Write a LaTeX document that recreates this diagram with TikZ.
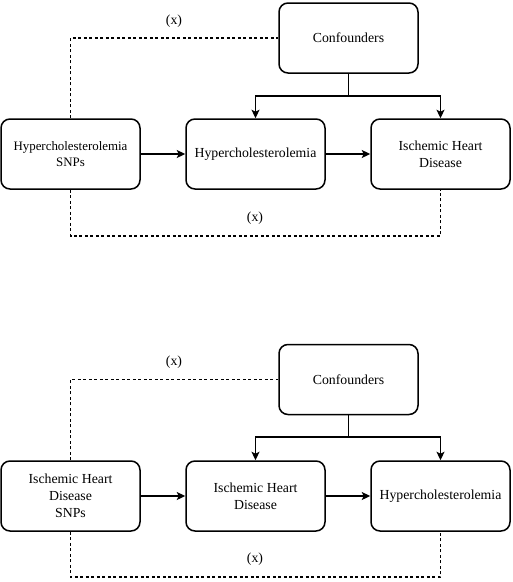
\documentclass[tikz,border=0pt]{standalone}
\usepackage{fontspec}
\setmainfont{Liberation Serif}
\usetikzlibrary{arrows.meta}
\begin{document}
\begin{tikzpicture}[x=1pt,y=-1pt,
  box/.style={draw, line width=1.5pt, rounded corners=9pt, minimum width=139pt, minimum height=70pt,
    inner sep=1pt, align=center, font=\fontsize{13.8}{17}\selectfont},
  smallbox/.style={box, font=\fontsize{12.9}{16}\selectfont},
  arr/.style={line width=1.5pt, -{Stealth[length=8.5pt,width=8pt,inset=2pt]}},
  link/.style={line width=1.5pt},
  dashlink/.style={line width=1.4pt, dash pattern=on 3pt off 2.5pt},
  lab/.style={font=\fontsize{13.8}{17}\selectfont, inner sep=0pt}]
\useasboundingbox (0,0) rectangle (513,582);
% ---- top diagram
\node[box] (c1) at (348.5,38) {Confounders};
\node[smallbox] (a1) at (70.5,154) {Hypercholesterolemia\\SNPs};
\node[box] (b1) at (255.5,154) {Hypercholesterolemia};
\node[box] (d1) at (440.5,154) {Ischemic Heart\\Disease};
\coordinate (j1) at (348.5,96);
\coordinate (q1) at (70.5,236);
\draw[arr] (a1) -- (b1);
\draw[arr] (b1) -- (d1);
\draw[link] (c1.south) -- (j1);
\draw[arr] (j1) -| (b1.north);
\draw[arr] (j1) -| (d1.north);
\draw[dashlink] (a1.north) |- (c1.west);
\draw[dashlink] (a1.south) -- (q1) -| (d1.south);
\node[lab] (x1) at (174,21) {(x)};
\node[lab] (x2) at (255,218) {(x)};
% ---- bottom diagram
\node[box] (c2) at (348.5,379.5) {Confounders};
\node[box] (a2) at (70.5,496) {Ischemic Heart\\Disease\\SNPs};
\node[box] (b2) at (255.5,496) {Ischemic Heart\\Disease};
\node[box] (d2) at (440.5,496) {Hypercholesterolemia};
\coordinate (j2) at (348.5,437);
\coordinate (q2) at (70.5,577);
\draw[arr] (a2) -- (b2);
\draw[arr] (b2) -- (d2);
\draw[link] (c2.south) -- (j2);
\draw[arr] (j2) -| (b2.north);
\draw[arr] (j2) -| (d2.north);
\draw[dashlink] (a2.north) |- (c2.west);
\draw[dashlink] (a2.south) -- (q2) -| (d2.south);
\node[lab] (x3) at (174,362) {(x)};
\node[lab] (x4) at (255,559) {(x)};
\end{tikzpicture}
\end{document}
